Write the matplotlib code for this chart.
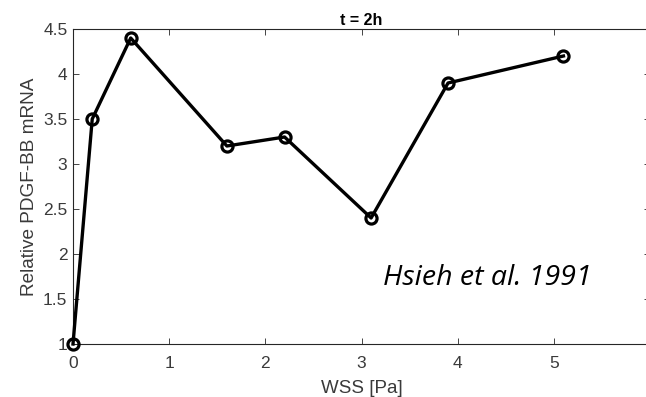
import matplotlib
matplotlib.use("Agg")
import matplotlib.pyplot as plt

wss = [0, 0.2, 0.6, 1.6, 2.2, 3.1, 3.9, 5.1]
pdgf = [1.0, 3.5, 4.4, 3.2, 3.3, 2.4, 3.9, 4.2]
xticks = [0, 1, 2, 3, 4, 5]
yticks = [1, 1.5, 2, 2.5, 3, 3.5, 4, 4.5]
ytick_labels = ["1", "1.5", "2", "2.5", "3", "3.5", "4", "4.5"]

W, H = 646, 397
fig = plt.figure(figsize=(W / 100, H / 100), dpi=100)
left, right, top, bottom = 73, 650, 29, 344
ax = fig.add_axes([left / W, 1 - bottom / H, (right - left) / W, (bottom - top) / H])

gray = "#262626"
ax.plot(wss, pdgf, color="black", lw=2.4, marker="o", ms=8, mfc="none",
        mec="black", mew=2.3, clip_on=False, zorder=5)

ax.set_xlim(0, 6)
ax.set_ylim(1, 4.5)
ax.set_xticks(xticks)
ax.set_xticklabels([str(t) for t in xticks])
ax.set_yticks(yticks)
ax.set_yticklabels(ytick_labels)

for s in ax.spines.values():
    s.set_color(gray)
    s.set_linewidth(0.8)
ax.tick_params(direction="in", length=4, width=0.6, color=gray, labelcolor="#3a3a3a",
               labelsize=12.5, top=True, right=True)
ax.tick_params(axis="y", pad=4)
ax.tick_params(axis="x", pad=9)
for lab in ax.get_xticklabels() + ax.get_yticklabels():
    lab.set_family("Liberation Sans")

ax.set_xlabel("WSS [Pa]", fontsize=13.5, color="#3a3a3a", family="Liberation Sans", labelpad=6)
ax.set_ylabel("Relative PDGF-BB mRNA", fontsize=13.7, color="#3a3a3a", family="Liberation Sans", labelpad=4)
ax.set_title("t = 2h", fontsize=11.5, fontweight="bold", color="black", family="Liberation Sans", pad=3)

fig.text(383 / W, 1 - 285 / H, "Hsieh et al. 1991", fontsize=20.5, style="italic",
         family="Open Sans", color="black", ha="left", va="baseline")

fig.savefig("out.png", dpi=100)
